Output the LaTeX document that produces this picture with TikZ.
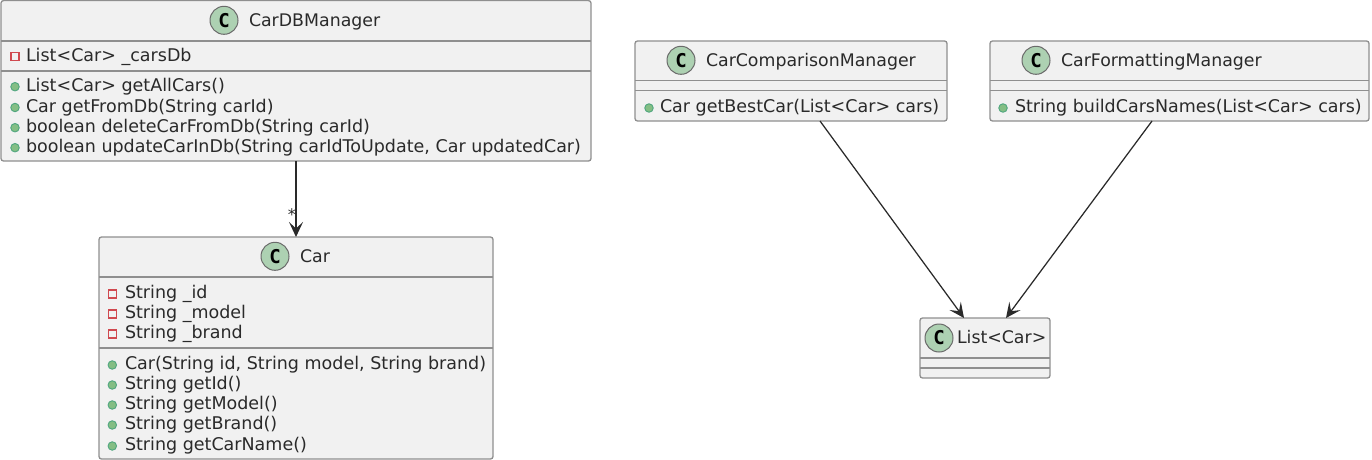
\documentclass[tikz,border=0pt]{standalone}
\usepackage{fontspec}
\setmainfont{DejaVu Sans}
\newfontfamily\spotfont{DejaVu Sans Mono}
\usetikzlibrary{arrows.meta}
\definecolor{boxfill}{HTML}{F1F1F1}
\definecolor{boxline}{HTML}{8F8F8F}
\definecolor{spotfill}{HTML}{ADD1B2}
\definecolor{privline}{HTML}{C82930}
\definecolor{pubfill}{HTML}{84BE84}
\definecolor{publine}{HTML}{038048}
\definecolor{ink}{HTML}{2A2A2A}
\tikzset{
  x=1pt,y=-1pt,
  classbox/.style={draw=boxline,fill=boxfill,line width=1.3pt,rounded corners=2.5pt,inner sep=0,outer sep=0,anchor=north west},
  sepline/.style={draw=boxline,line width=1.3pt},
  spot/.style={circle,draw=ink!70,fill=spotfill,line width=1pt,minimum size=28pt,inner sep=0,text=black,font=\spotfont\fontsize{19}{19}\selectfont\bfseries},
  txt/.style={anchor=base west,inner sep=0,outer sep=0,text=ink,font=\fontsize{17.5}{20}\selectfont},
  titletxt/.style={txt,font=\fontsize{17.35}{20}\selectfont},
  priv/.style={draw=privline!85,line width=1.1pt,fill=none,minimum size=8pt,inner sep=0},
  pub/.style={circle,draw=publine!70,fill=pubfill,line width=0.9pt,minimum size=8.5pt,inner sep=0},
  link/.style={draw=ink,line width=1.25pt,-{Stealth[length=15pt,width=14pt,inset=6.5pt]}},
}
% \cbox{name}{x1}{y1}{x2}{y2}
\newcommand{\cbox}[5]{\node[classbox,minimum width=#4-#2,minimum height=#5-#3] (#1) at (#2,#3) {};}
\newcommand{\cspot}[4]{\node[spot] (#1spot) at (#2,#3) {C}; \node[titletxt] (#1title) at (#2+25,#3+5.8) {#4};}
\newcommand{\csep}[2]{\draw[sepline] (#1.west |- 0,#2) -- (#1.east |- 0,#2);}
\newcommand{\privrow}[5]{\node[priv] (#1i) at (#2,#4) {}; \node[txt] (#1) at (#3,#4+4.8) {#5};}
\newcommand{\pubrow}[5]{\node[pub] (#1i) at (#2,#4) {}; \node[txt] (#1) at (#3,#4+4.8) {#5};}
\begin{document}
\begin{tikzpicture}
\useasboundingbox (0,0) rectangle (1372,460);
% CarDBManager
\cbox{db}{1}{0.6}{591}{161}
\cspot{db}{224}{20.3}{CarDBManager}
\csep{db}{41}
\csep{db}{71}
\privrow{dba}{15}{26}{56.3}{List<Car> \_carsDb}
\pubrow{dbm}{15}{26}{86.7}{List<Car> getAllCars()}
\pubrow{dbn}{15}{26}{107.5}{Car getFromDb(String carId)}
\pubrow{dbo}{15}{26}{127.7}{boolean deleteCarFromDb(String carId)}
\pubrow{dbp}{15}{26}{147.7}{boolean updateCarInDb(String carIdToUpdate, Car updatedCar)}
% Car
\cbox{car}{99}{237}{493}{459}
\cspot{car}{275}{256.3}{Car}
\csep{car}{277}
\csep{car}{348}
\privrow{cara}{112.3}{125}{294}{String \_id}
\privrow{carb}{112.3}{125}{314}{String \_model}
\privrow{carc}{112.3}{125}{334}{String \_brand}
\pubrow{carm}{112.3}{125}{365}{Car(String id, String model, String brand)}
\pubrow{carn}{112.3}{125}{385}{String getId()}
\pubrow{caro}{112.3}{125}{405}{String getModel()}
\pubrow{carp}{112.3}{125}{425}{String getBrand()}
\pubrow{carq}{112.3}{125}{446}{String getCarName()}
% CarComparisonManager
\cbox{cmp}{635}{41}{947}{121}
\cspot{cmp}{681}{60.3}{CarComparisonManager}
\csep{cmp}{80.5}
\csep{cmp}{90.5}
\pubrow{cmpm}{649}{660}{108}{Car getBestCar(List<Car> cars)}
% CarFormattingManager
\cbox{fmt}{990}{41}{1369}{121}
\cspot{fmt}{1036}{60.3}{CarFormattingManager}
\csep{fmt}{80.5}
\csep{fmt}{90.5}
\pubrow{fmtm}{1003}{1015}{108}{String buildCarsNames(List<Car> cars)}
% List<Car>
\cbox{lst}{920}{318}{1050}{378}
\node[spot] (lstspot) at (939,338) {C};
\node[titletxt] (lsttitle) at (957,343.8) {List<Car>};
\csep{lst}{358}
\csep{lst}{368}
% connectors
\draw[link] (db.south) -- node[pos=0.7,left=-1.5pt,inner sep=1pt,text=ink,font=\fontsize{16}{16}\selectfont] (star) {*} (car.north);
\draw[link] ([xshift=29pt]cmp.south) -- ([xshift=-21pt]lst.north);
\draw[link] ([xshift=-27.5pt]fmt.south) -- ([xshift=21pt]lst.north);
\end{tikzpicture}
\end{document}
